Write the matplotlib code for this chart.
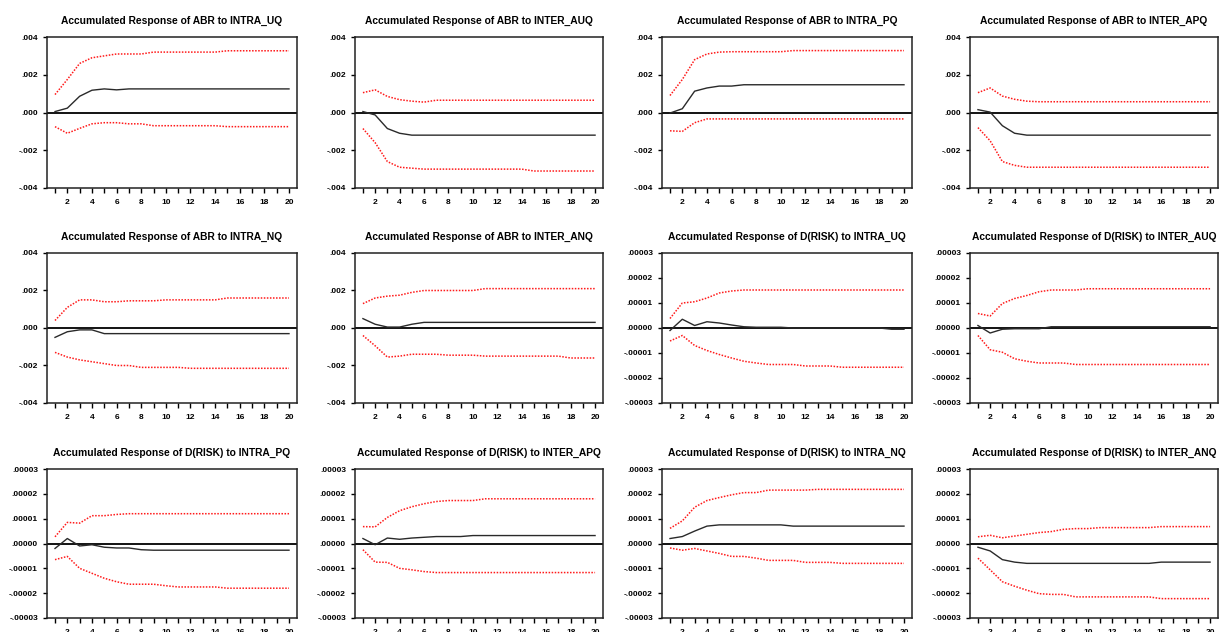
import numpy as np
import matplotlib
matplotlib.use("Agg")
import matplotlib.pyplot as plt

plt.rcParams['font.family'] = ['Liberation Sans', 'DejaVu Sans']

periods = list(range(1, 21))

titles = [
    "Accumulated Response of ABR to INTRA_UQ",
    "Accumulated Response of ABR to INTER_AUQ",
    "Accumulated Response of ABR to INTRA_PQ",
    "Accumulated Response of ABR to INTER_APQ",
    "Accumulated Response of ABR to INTRA_NQ",
    "Accumulated Response of ABR to INTER_ANQ",
    "Accumulated Response of D(RISK) to INTRA_UQ",
    "Accumulated Response of D(RISK) to INTER_AUQ",
    "Accumulated Response of D(RISK) to INTRA_PQ",
    "Accumulated Response of D(RISK) to INTER_APQ",
    "Accumulated Response of D(RISK) to INTRA_NQ",
    "Accumulated Response of D(RISK) to INTER_ANQ",
]

# ---- ABR responses (units: raw) ----
abr_intra_uq = [0.00005, 0.00023, 0.00086, 0.00118, 0.00125, 0.0012, 0.00125, 0.00125, 0.00125, 0.00125,
                0.00125, 0.00125, 0.00125, 0.00125, 0.00125, 0.00125, 0.00125, 0.00125, 0.00125, 0.00125]
abr_intra_uq_hi = [0.00095, 0.00175, 0.0026, 0.0029, 0.003, 0.0031, 0.0031, 0.0031, 0.0032, 0.0032,
                   0.0032, 0.0032, 0.0032, 0.0032, 0.00327, 0.00327, 0.00327, 0.00327, 0.00327, 0.00327]
abr_intra_uq_lo = [-0.00075, -0.0011, -0.00084, -0.0006, -0.00054, -0.00054, -0.0006, -0.0006, -0.0007, -0.0007,
                   -0.0007, -0.0007, -0.0007, -0.0007, -0.00075, -0.00075, -0.00075, -0.00075, -0.00075, -0.00075]

abr_inter_auq = [0.00005, -0.00013, -0.00085, -0.0011, -0.0012, -0.0012, -0.0012, -0.0012, -0.0012, -0.0012,
                 -0.0012, -0.0012, -0.0012, -0.0012, -0.0012, -0.0012, -0.0012, -0.0012, -0.0012, -0.0012]
abr_inter_auq_hi = [0.00105, 0.0012, 0.00085, 0.00068, 0.0006, 0.00055, 0.00065, 0.00065, 0.00065, 0.00065,
                    0.00065, 0.00065, 0.00065, 0.00065, 0.00065, 0.00065, 0.00065, 0.00065, 0.00065, 0.00065]
abr_inter_auq_lo = [-0.00085, -0.0016, -0.0026, -0.0029, -0.00295, -0.003, -0.003, -0.003, -0.003, -0.003,
                    -0.003, -0.003, -0.003, -0.003, -0.0031, -0.0031, -0.0031, -0.0031, -0.0031, -0.0031]

abr_intra_pq = [-0.00003, 0.0002, 0.00113, 0.0013, 0.0014, 0.0014, 0.00147, 0.00147, 0.00147, 0.00147,
                0.00147, 0.00147, 0.00147, 0.00147, 0.00147, 0.00147, 0.00147, 0.00147, 0.00147, 0.00147]
abr_intra_pq_hi = [0.0009, 0.00175, 0.0028, 0.0031, 0.0032, 0.00322, 0.00322, 0.00322, 0.00322, 0.00322,
                   0.00328, 0.00328, 0.00328, 0.00328, 0.00328, 0.00328, 0.00328, 0.00328, 0.00328, 0.00328]
abr_intra_pq_lo = [-0.00097, -0.001, -0.00054, -0.00034, -0.00034, -0.00034, -0.00034, -0.00034, -0.00034, -0.00034,
                   -0.00034, -0.00034, -0.00034, -0.00034, -0.00034, -0.00034, -0.00034, -0.00034, -0.00034, -0.00034]

abr_inter_apq = [0.00015, 0.00002, -0.0007, -0.0011, -0.0012, -0.0012, -0.0012, -0.0012, -0.0012, -0.0012,
                 -0.0012, -0.0012, -0.0012, -0.0012, -0.0012, -0.0012, -0.0012, -0.0012, -0.0012, -0.0012]
abr_inter_apq_hi = [0.00105, 0.0013, 0.00087, 0.0007, 0.0006, 0.00057, 0.00057, 0.00057, 0.00057, 0.00057,
                    0.00057, 0.00057, 0.00057, 0.00057, 0.00057, 0.00057, 0.00057, 0.00057, 0.00057, 0.00057]
abr_inter_apq_lo = [-0.0008, -0.0015, -0.0026, -0.0028, -0.0029, -0.0029, -0.0029, -0.0029, -0.0029, -0.0029,
                    -0.0029, -0.0029, -0.0029, -0.0029, -0.0029, -0.0029, -0.0029, -0.0029, -0.0029, -0.0029]

abr_intra_nq = [-0.0005, -0.0002, -0.0001, -0.0001, -0.0003, -0.0003, -0.0003, -0.0003, -0.0003, -0.0003,
                -0.0003, -0.0003, -0.0003, -0.0003, -0.0003, -0.0003, -0.0003, -0.0003, -0.0003, -0.0003]
abr_intra_nq_hi = [0.0004, 0.0011, 0.0015, 0.0015, 0.0014, 0.0014, 0.00145, 0.00145, 0.00145, 0.0015,
                   0.0015, 0.0015, 0.0015, 0.0015, 0.0016, 0.0016, 0.0016, 0.0016, 0.0016, 0.0016]
abr_intra_nq_lo = [-0.0013, -0.00155, -0.0017, -0.0018, -0.0019, -0.002, -0.002, -0.0021, -0.0021, -0.0021,
                   -0.0021, -0.00215, -0.00215, -0.00215, -0.00215, -0.00215, -0.00215, -0.00215, -0.00215, -0.00215]

abr_inter_anq = [0.0005, 0.0002, 0.00005, 0.00005, 0.0002, 0.0003, 0.0003, 0.0003, 0.0003, 0.0003,
                 0.0003, 0.0003, 0.0003, 0.0003, 0.0003, 0.0003, 0.0003, 0.0003, 0.0003, 0.0003]
abr_inter_anq_hi = [0.0013, 0.0016, 0.0017, 0.00175, 0.0019, 0.002, 0.002, 0.002, 0.002, 0.002,
                    0.0021, 0.0021, 0.0021, 0.0021, 0.0021, 0.0021, 0.0021, 0.0021, 0.0021, 0.0021]
abr_inter_anq_lo = [-0.0004, -0.00095, -0.00155, -0.0015, -0.0014, -0.0014, -0.0014, -0.00145, -0.00145, -0.00145,
                    -0.0015, -0.0015, -0.0015, -0.0015, -0.0015, -0.0015, -0.0015, -0.0016, -0.0016, -0.0016]

# ---- D(RISK) responses (units: 1e-5) ----
risk_intra_uq = [-0.1, 0.35, 0.1, 0.25, 0.2, 0.12, 0.05, 0.03, 0.03, 0.03,
                 0.0, 0.0, 0.0, 0.0, 0.0, 0.0, 0.0, 0.0, -0.05, -0.05]
risk_intra_uq_hi = [0.38, 1.0, 1.05, 1.2, 1.4, 1.48, 1.52, 1.52, 1.52, 1.52,
                    1.52, 1.52, 1.52, 1.52, 1.52, 1.52, 1.52, 1.52, 1.52, 1.52]
risk_intra_uq_lo = [-0.52, -0.3, -0.7, -0.9, -1.06, -1.2, -1.33, -1.4, -1.46, -1.46,
                    -1.46, -1.52, -1.52, -1.52, -1.57, -1.57, -1.57, -1.57, -1.57, -1.57]

risk_inter_auq = [0.1, -0.2, -0.05, -0.03, -0.03, -0.03, 0.05, 0.05, 0.05, 0.05,
                  0.05, 0.05, 0.05, 0.05, 0.05, 0.05, 0.05, 0.05, 0.05, 0.05]
risk_inter_auq_hi = [0.58, 0.48, 0.98, 1.18, 1.3, 1.45, 1.52, 1.52, 1.52, 1.57,
                     1.57, 1.57, 1.57, 1.57, 1.57, 1.57, 1.57, 1.57, 1.57, 1.57]
risk_inter_auq_lo = [-0.3, -0.87, -0.97, -1.23, -1.33, -1.4, -1.4, -1.4, -1.46, -1.46,
                     -1.46, -1.46, -1.46, -1.46, -1.46, -1.46, -1.46, -1.46, -1.46, -1.46]

risk_intra_pq = [-0.2, 0.2, -0.1, -0.05, -0.15, -0.18, -0.18, -0.25, -0.27, -0.27,
                 -0.27, -0.27, -0.27, -0.27, -0.27, -0.27, -0.27, -0.27, -0.27, -0.27]
risk_intra_pq_hi = [0.27, 0.85, 0.82, 1.12, 1.12, 1.17, 1.2, 1.2, 1.2, 1.2,
                    1.2, 1.2, 1.2, 1.2, 1.2, 1.2, 1.2, 1.2, 1.2, 1.2]
risk_intra_pq_lo = [-0.65, -0.52, -1.0, -1.2, -1.4, -1.54, -1.64, -1.64, -1.64, -1.7,
                    -1.75, -1.75, -1.75, -1.75, -1.8, -1.8, -1.8, -1.8, -1.8, -1.8]

risk_inter_apq = [0.2, -0.05, 0.22, 0.17, 0.22, 0.25, 0.28, 0.28, 0.28, 0.32,
                  0.32, 0.32, 0.32, 0.32, 0.32, 0.32, 0.32, 0.32, 0.32, 0.32]
risk_inter_apq_hi = [0.68, 0.67, 1.05, 1.32, 1.48, 1.6, 1.69, 1.73, 1.73, 1.73,
                     1.8, 1.8, 1.8, 1.8, 1.8, 1.8, 1.8, 1.8, 1.8, 1.8]
risk_inter_apq_lo = [-0.25, -0.75, -0.76, -1.0, -1.06, -1.13, -1.17, -1.17, -1.17, -1.17,
                     -1.17, -1.17, -1.17, -1.17, -1.17, -1.17, -1.17, -1.17, -1.17, -1.17]

risk_intra_nq = [0.2, 0.28, 0.5, 0.7, 0.75, 0.75, 0.75, 0.75, 0.75, 0.75,
                 0.7, 0.7, 0.7, 0.7, 0.7, 0.7, 0.7, 0.7, 0.7, 0.7]
risk_intra_nq_hi = [0.61, 0.91, 1.46, 1.73, 1.85, 1.96, 2.05, 2.05, 2.15, 2.15,
                    2.15, 2.15, 2.18, 2.18, 2.18, 2.18, 2.18, 2.18, 2.18, 2.18]
risk_intra_nq_lo = [-0.18, -0.27, -0.2, -0.3, -0.4, -0.52, -0.52, -0.59, -0.68, -0.68,
                    -0.68, -0.76, -0.76, -0.76, -0.8, -0.8, -0.8, -0.8, -0.8, -0.8]

risk_inter_anq = [-0.15, -0.3, -0.65, -0.75, -0.8, -0.8, -0.8, -0.8, -0.8, -0.8,
                  -0.8, -0.8, -0.8, -0.8, -0.8, -0.75, -0.75, -0.75, -0.75, -0.75]
risk_inter_anq_hi = [0.27, 0.33, 0.23, 0.3, 0.37, 0.44, 0.48, 0.57, 0.6, 0.6,
                     0.64, 0.64, 0.64, 0.64, 0.64, 0.68, 0.68, 0.68, 0.68, 0.68]
risk_inter_anq_lo = [-0.59, -1.06, -1.54, -1.72, -1.88, -2.02, -2.05, -2.05, -2.15, -2.15,
                     -2.15, -2.15, -2.15, -2.15, -2.15, -2.22, -2.22, -2.22, -2.22, -2.22]

SCALE_RISK = 1e-5

abr_ticks = [-0.004, -0.002, 0.0, 0.002, 0.004]
abr_ticklabels = ["-.004", "-.002", ".000", ".002", ".004"]
risk_ticks = [-0.00003, -0.00002, -0.00001, 0.0, 0.00001, 0.00002, 0.00003]
risk_ticklabels = ["-.00003", "-.00002", "-.00001", ".00000", ".00001", ".00002", ".00003"]
xtick_labels = ["2", "4", "6", "8", "10", "12", "14", "16", "18", "20"]

panels = [
    (abr_intra_uq, abr_intra_uq_hi, abr_intra_uq_lo, 1.0, "abr"),
    (abr_inter_auq, abr_inter_auq_hi, abr_inter_auq_lo, 1.0, "abr"),
    (abr_intra_pq, abr_intra_pq_hi, abr_intra_pq_lo, 1.0, "abr"),
    (abr_inter_apq, abr_inter_apq_hi, abr_inter_apq_lo, 1.0, "abr"),
    (abr_intra_nq, abr_intra_nq_hi, abr_intra_nq_lo, 1.0, "abr"),
    (abr_inter_anq, abr_inter_anq_hi, abr_inter_anq_lo, 1.0, "abr"),
    (risk_intra_uq, risk_intra_uq_hi, risk_intra_uq_lo, SCALE_RISK, "risk"),
    (risk_inter_auq, risk_inter_auq_hi, risk_inter_auq_lo, SCALE_RISK, "risk"),
    (risk_intra_pq, risk_intra_pq_hi, risk_intra_pq_lo, SCALE_RISK, "risk"),
    (risk_inter_apq, risk_inter_apq_hi, risk_inter_apq_lo, SCALE_RISK, "risk"),
    (risk_intra_nq, risk_intra_nq_hi, risk_intra_nq_lo, SCALE_RISK, "risk"),
    (risk_inter_anq, risk_inter_anq_hi, risk_inter_anq_lo, SCALE_RISK, "risk"),
]

W, H = 1221, 632
fig = plt.figure(figsize=(W / 100, H / 100), dpi=100)
fig.patch.set_facecolor("white")

col_lr = [(47, 297), (355, 603), (662, 912), (970, 1218)]
row_tb = [(37, 188), (253, 403), (469, 618)]

for i, (resp, hi, lo, sc, kind) in enumerate(panels):
    r, c = divmod(i, 4)
    l, rr = col_lr[c]
    t, b = row_tb[r]
    ax = fig.add_axes([l / W, 1 - b / H, (rr - l) / W, (b - t) / H])
    x = np.array(periods)
    ax.axhline(0, color="black", lw=1.3, zorder=2)
    ax.plot(x, np.array(resp) * sc, color="#2a2a2a", lw=1.0, zorder=3)
    ax.plot(x, np.array(hi) * sc, color="#ff1a1a", lw=1.1, ls=(0, (1, 1)), zorder=3)
    ax.plot(x, np.array(lo) * sc, color="#ff1a1a", lw=1.1, ls=(0, (1, 1)), zorder=3)
    ax.set_xlim(0.35, 20.65)
    if kind == "abr":
        ax.set_ylim(-0.004, 0.004)
        ax.set_yticks(abr_ticks)
        ax.set_yticklabels(abr_ticklabels)
    else:
        ax.set_ylim(-0.00003, 0.00003)
        ax.set_yticks(risk_ticks)
        ax.set_yticklabels(risk_ticklabels)
    ax.set_xticks(list(range(2, 21, 2)))
    ax.set_xticklabels(xtick_labels)
    ax.set_xticks(list(range(1, 21, 2)), minor=True)
    ax.tick_params(axis="x", which="both", direction="out", length=3.5, width=1.0,
                   labelsize=6, pad=4.5, colors="black")
    ax.tick_params(axis="y", which="both", direction="out", length=3, width=1.0,
                   labelsize=6, pad=3.5, colors="black")
    for lab in ax.get_xticklabels() + ax.get_yticklabels():
        lab.set_fontweight("bold")
    for s in ax.spines.values():
        s.set_linewidth(1.1)
        s.set_color("#222222")
    fig.text((l + rr) / 2 / W, 1 - (t - 16) / H, titles[i], ha="center", va="center",
             fontsize=7.4, fontweight="bold")

fig.savefig("out.png", dpi=100, facecolor="white")
